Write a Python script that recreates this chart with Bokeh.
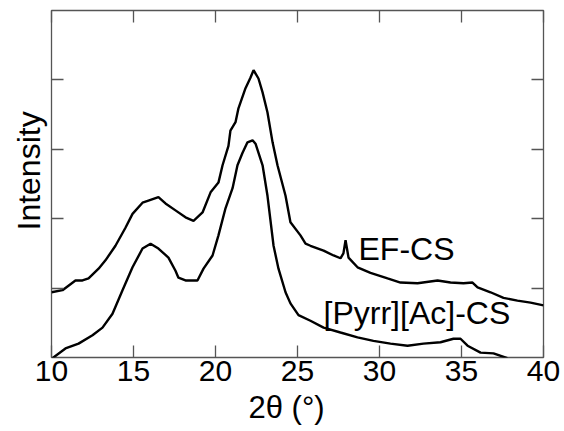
from bokeh.plotting import figure
from bokeh.models import LinearAxis, FixedTicker, Range1d, Title
from bokeh.embed import file_html
from bokeh.resources import INLINE
from bokeh.core.properties import value

# ---- data ----
two_theta_ef = [10.00, 10.67, 11.46, 11.89, 12.26, 12.87, 13.29, 13.90, 14.51, 14.94,
                15.55, 15.91, 16.52, 16.95, 17.56, 18.17, 18.66, 19.21, 19.70, 20.18,
                20.43, 20.79, 20.91, 21.22, 21.40, 21.83, 22.13, 22.32, 22.62, 22.87,
                23.17, 23.48, 23.78, 24.27, 24.57, 25.18, 25.49, 25.79, 26.59, 27.20,
                27.62, 27.80, 27.93, 28.11, 28.66, 29.45, 30.49, 31.28, 32.32, 33.54,
                34.33, 35.12, 35.67, 35.98, 36.77, 37.56, 38.41, 39.21, 40.00]
intensity_ef = [0.94, 0.97, 1.11, 1.11, 1.14, 1.28, 1.40, 1.61, 1.87, 2.07,
                2.23, 2.26, 2.31, 2.22, 2.12, 2.02, 1.97, 2.09, 2.38, 2.52,
                2.77, 3.05, 3.27, 3.39, 3.59, 3.88, 4.03, 4.14, 4.02, 3.82,
                3.53, 3.10, 2.77, 2.33, 1.95, 1.76, 1.64, 1.61, 1.54, 1.47,
                1.43, 1.50, 1.69, 1.44, 1.30, 1.22, 1.14, 1.08, 1.07, 1.11,
                1.08, 1.07, 1.08, 1.01, 0.94, 0.86, 0.82, 0.79, 0.75]

two_theta_pa = [10.00, 10.85, 11.65, 12.50, 13.11, 13.72, 14.33, 14.94, 15.55, 16.04,
                16.52, 17.13, 17.56, 17.74, 18.17, 18.90, 19.27, 19.82, 20.18, 20.61,
                21.04, 21.34, 21.65, 21.95, 22.26, 22.44, 22.87, 23.17, 23.54, 23.84,
                24.27, 24.57, 25.06, 25.79, 26.59, 27.62, 28.66, 29.63, 30.67, 31.71,
                32.68, 33.72, 34.51, 34.94, 35.37, 36.16, 36.95, 37.80]
intensity_pa = [-0.02, 0.13, 0.20, 0.32, 0.43, 0.63, 0.97, 1.30, 1.57, 1.64,
                1.57, 1.44, 1.25, 1.15, 1.11, 1.11, 1.28, 1.47, 1.76, 2.15,
                2.44, 2.77, 2.95, 3.10, 3.13, 3.08, 2.77, 2.33, 1.61, 1.28,
                0.94, 0.78, 0.61, 0.53, 0.43, 0.36, 0.29, 0.24, 0.20, 0.17,
                0.20, 0.22, 0.27, 0.27, 0.17, 0.07, 0.06, -0.01]

x_ticks = [10, 15, 20, 25, 30, 35, 40]
y_ticks = [1, 2, 3, 4]
series_names = ["EF-CS", "[Pyrr][Ac]-CS"]
label_x = [28.72, 26.59]
label_y = [1.57, 0.64]
x_title = "2θ (°)"
y_title = "Intensity"

FONT = "Liberation Sans"
FRAME = "#555555"

p = figure(width=564, height=431, output_backend="svg", toolbar_location=None,
           x_range=Range1d(10, 40), y_range=Range1d(0, 5),
           min_border_left=51, min_border_right=21, min_border_top=10,
           min_border_bottom=74)
p.grid.visible = False
p.outline_line_color = FRAME
p.outline_line_width = 1.3
p.background_fill_color = "white"
p.border_fill_color = "white"


def style_axis(ax, ticks, labels=True):
    ax.ticker = FixedTicker(ticks=ticks)
    ax.axis_line_color = None
    ax.major_tick_in = 12
    ax.major_tick_out = 0
    ax.major_tick_line_color = FRAME
    ax.major_tick_line_width = 1.3
    ax.minor_tick_line_color = None
    if labels:
        ax.major_label_text_font = FONT
        ax.major_label_text_font_size = "30px"
        ax.major_label_text_color = "black"
        ax.major_label_standoff = 3
    else:
        ax.major_label_text_font_size = "1px"
        ax.major_label_text_color = None
        ax.major_label_standoff = 0


style_axis(p.xaxis[0], x_ticks)
style_axis(p.yaxis[0], y_ticks, labels=False)

xt = LinearAxis()
style_axis(xt, x_ticks, labels=False)
p.add_layout(xt, "above")
yr = LinearAxis()
style_axis(yr, y_ticks, labels=False)
p.add_layout(yr, "right")

p.add_layout(Title(text=x_title, text_font=FONT, text_font_size="31px",
                   text_font_style="normal", text_color="black",
                   align="left", offset=197, standoff=8,
                   vertical_align="bottom"), "below")
p.add_layout(Title(text=y_title, text_font=FONT, text_font_size="32px",
                   text_font_style="normal", text_color="black",
                   align="left", offset=127, standoff=10), "left")

p.line(two_theta_ef, intensity_ef, line_color="black", line_width=2.4)
p.line(two_theta_pa, intensity_pa, line_color="black", line_width=2.4)

p.text(x=label_x, y=label_y, text=series_names, text_font=value(FONT),
       text_font_size="32px", text_color="black", text_align="left",
       text_baseline="alphabetic")

open("out.html", "w").write(file_html(p, INLINE))
